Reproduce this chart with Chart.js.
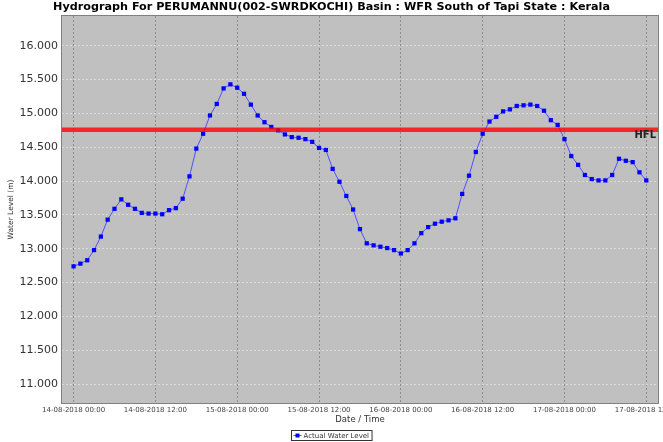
<!DOCTYPE html>
<html>
<head>
<meta charset="utf-8">
<script src="https://cdn.jsdelivr.net/npm/chart.js@4/dist/chart.umd.min.js"></script>
<style>
  html, body { margin: 0; padding: 0; background: #fff; }
</style>
</head>
<body>
<canvas id="myChart" width="663" height="442"></canvas>
<script>
const tituloGrafico = "Hydrograph For PERUMANNU(002-SWRDKOCHI) Basin : WFR South of Tapi State : Kerala"
const nombreSerie = "Actual Water Level"

// una lectura por hora desde 14-08-2018 00:00 (hora 0) hasta 17-08-2018 12:00 (hora 84)
const waterLevel = [
  12.74, 12.78, 12.83, 12.98, 13.18, 13.43, 13.59, 13.73, 13.65, 13.59, 13.53, 13.52,
  13.52, 13.51, 13.57, 13.60, 13.74, 14.07, 14.48, 14.70, 14.97, 15.14, 15.37, 15.43,
  15.38, 15.29, 15.13, 14.97, 14.87, 14.80, 14.75, 14.69, 14.65, 14.64, 14.62, 14.58,
  14.49, 14.46, 14.18, 13.99, 13.78, 13.58, 13.29, 13.08, 13.05, 13.03, 13.01, 12.98,
  12.93, 12.98, 13.08, 13.23, 13.32, 13.37, 13.40, 13.42, 13.45, 13.81, 14.08, 14.43,
  14.70, 14.88, 14.95, 15.03, 15.06, 15.11, 15.12, 15.13, 15.11, 15.04, 14.90, 14.83,
  14.62, 14.37, 14.24, 14.09, 14.03, 14.01, 14.01, 14.09, 14.33, 14.30, 14.28, 14.13,
  14.01
]

const xTickHours = [0, 12, 24, 36, 48, 60, 72, 84]
const xTickLabels = [
  "14-08-2018 00:00", "14-08-2018 12:00", "15-08-2018 00:00", "15-08-2018 12:00",
  "16-08-2018 00:00", "16-08-2018 12:00", "17-08-2018 00:00", "17-08-2018 12:00"
]
const yTicks = [11, 11.5, 12, 12.5, 13, 13.5, 14, 14.5, 15, 15.5, 16]

const hflValue = 14.76
const hflLabel = "HFL"

const xMin = -1.7
const xMax = 85.72

const miGraf = document.querySelector("#myChart")

const fondoYTextos = {
  id: "fondoYTextos",
  beforeDraw(chart) {
    const { ctx, chartArea: a } = chart
    ctx.save()
    ctx.fillStyle = "#fff"
    ctx.fillRect(0, 0, chart.width, chart.height)
    ctx.fillStyle = "#c0c0c0"
    ctx.fillRect(a.left, a.top, a.right - a.left, a.bottom - a.top)
    ctx.restore()
  },
  afterDraw(chart) {
    const { ctx, chartArea: a } = chart
    ctx.save()
    // marco del area de trazado
    ctx.strokeStyle = "#808080"
    ctx.lineWidth = 1
    ctx.strokeRect(a.left - 0.5, a.top - 0.5, a.right - a.left + 1, a.bottom - a.top + 1)

    // titulo
    ctx.fillStyle = "#000"
    ctx.font = "bold 11.2px 'DejaVu Sans'"
    ctx.textAlign = "center"
    ctx.textBaseline = "middle"
    ctx.fillText(tituloGrafico, chart.width / 2, 7)

    // etiqueta HFL bajo la linea roja
    const yHfl = chart.scales.y.getPixelForValue(hflValue)
    ctx.font = "bold 10px 'DejaVu Sans'"
    ctx.fillStyle = "#222"
    ctx.textAlign = "right"
    ctx.textBaseline = "top"
    ctx.fillText(hflLabel, a.right - 2, yHfl + 1)

    // leyenda con recuadro
    ctx.font = "7px 'DejaVu Sans'"
    const anchoTexto = ctx.measureText(nombreSerie).width
    const anchoCaja = anchoTexto + 15
    const izq = Math.round(chart.width / 2 - anchoCaja / 2) + 0.5
    const arriba = 430.5
    ctx.strokeStyle = "#333"
    ctx.strokeRect(izq, arriba, anchoCaja, 10)
    ctx.strokeStyle = "#5050ff"
    ctx.beginPath()
    ctx.moveTo(izq + 2, arriba + 5)
    ctx.lineTo(izq + 10, arriba + 5)
    ctx.stroke()
    ctx.fillStyle = "#0000ff"
    ctx.fillRect(izq + 4, arriba + 3, 4, 4)
    ctx.fillStyle = "#333"
    ctx.textAlign = "left"
    ctx.textBaseline = "middle"
    ctx.fillText(nombreSerie, izq + 12, arriba + 5.5)
    ctx.restore()
  }
}

const config = {
  type: "line",
  data: {
    datasets: [
      {
        label: hflLabel,
        data: [{ x: xMin, y: hflValue }, { x: xMax, y: hflValue }],
        borderColor: "rgba(255, 0, 0, 0.8)",
        borderWidth: 4.5,
        pointRadius: 0,
        order: 0
      },
      {
        label: nombreSerie,
        data: waterLevel.map((v, i) => ({ x: i, y: v })),
        borderColor: "#5050ff",
        borderWidth: 1,
        pointStyle: "rect",
        pointRadius: 3,
        pointBorderWidth: 0,
        pointBackgroundColor: "#0000ff",
        tension: 0,
        order: 1
      }
    ]
  },
  options: {
    responsive: false,
    animation: false,
    events: [],
    layout: { padding: { top: 16, right: 5, bottom: 14, left: 0 } },
    plugins: {
      legend: { display: false },
      title: { display: false },
      tooltip: { enabled: false }
    },
    scales: {
      x: {
        type: "linear",
        min: xMin,
        max: xMax,
        afterBuildTicks: (s) => { s.ticks = xTickHours.map((v) => ({ value: v })) },
        afterFit: (s) => { s.height = 25; s.paddingLeft = 0; s.paddingRight = 0 },
        ticks: {
          callback: (v) => xTickLabels[xTickHours.indexOf(v)],
          font: { family: "DejaVu Sans", size: 7 },
          color: "#444",
          padding: 3,
          maxRotation: 0,
          autoSkip: false
        },
        grid: { color: "#8c8c8c", drawTicks: false, lineWidth: 1 },
        border: { display: false, dash: [2, 2] },
        title: {
          display: true,
          text: "Date / Time",
          font: { family: "DejaVu Sans", size: 8.5 },
          color: "#333",
          padding: { top: 0, bottom: 3 }
        }
      },
      y: {
        min: 10.72,
        max: 16.44,
        afterBuildTicks: (s) => { s.ticks = yTicks.map((v) => ({ value: v })) },
        afterFit: (s) => { s.width = 62; s.paddingTop = 0; s.paddingBottom = 0 },
        ticks: {
          callback: (v) => Number(v).toFixed(3),
          font: { family: "DejaVu Sans", size: 11 },
          color: "#333",
          padding: 4
        },
        grid: { color: "#dadada", drawTicks: false, lineWidth: 1 },
        border: { display: false, dash: [2, 2] },
        title: {
          display: true,
          text: "Water Level (m)",
          font: { family: "DejaVu Sans", size: 7.5 },
          color: "#333",
          padding: { top: 7, bottom: 0 }
        }
      }
    }
  },
  plugins: [fondoYTextos]
}

new Chart(miGraf, config)
</script>
</body>
</html>
